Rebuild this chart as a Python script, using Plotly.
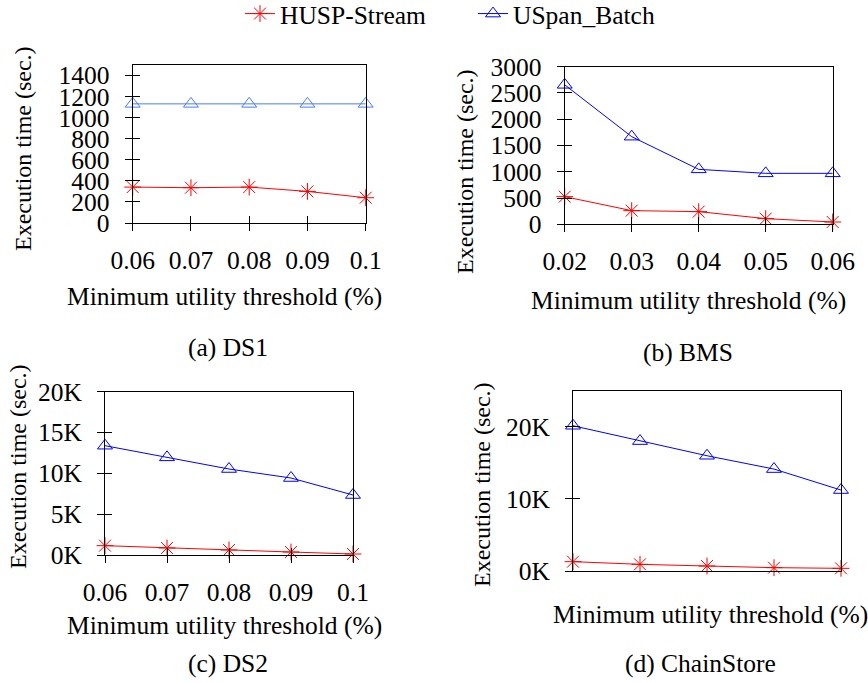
import plotly.graph_objects as go

# ---------------- data ----------------
x_ds1 = [0.06, 0.07, 0.08, 0.09, 0.10]
x_ds1_labels = ["0.06", "0.07", "0.08", "0.09", "0.1"]
husp_ds1 = [341, 335, 341, 300, 240]
uspan_ds1 = [1131, 1131, 1131, 1131, 1131]

x_bms = [0.02, 0.03, 0.04, 0.05, 0.06]
x_bms_labels = ["0.02", "0.03", "0.04", "0.05", "0.06"]
husp_bms = [526, 260, 241, 108, 44]
uspan_bms = [2655, 1668, 1046, 970, 970]

x_ds2 = [0.06, 0.07, 0.08, 0.09, 0.10]
x_ds2_labels = ["0.06", "0.07", "0.08", "0.09", "0.1"]
husp_ds2 = [1143, 857, 612, 367, 122]
uspan_ds2 = [13388, 11959, 10531, 9429, 7347]

x_chain = [1, 2, 3, 4, 5]          # thresholds not labelled in the source
husp_chain = [1293, 924, 693, 462, 370]
uspan_chain = [20139, 18014, 15982, 14134, 11224]

y_ds1_ticks = [0, 200, 400, 600, 800, 1000, 1200, 1400]
y_bms_ticks = [0, 500, 1000, 1500, 2000, 2500, 3000]
y_ds2_ticks = [0, 5000, 10000, 15000, 20000]
y_ds2_labels = ["0K", "5K", "10K", "15K", "20K"]
y_chain_ticks = [0, 10000, 20000]
y_chain_labels = ["0K", "10K", "20K"]

series_names = ["HUSP-Stream", "USpan_Batch"]
captions = ["(a) DS1", "(b) BMS", "(c) DS2", "(d) ChainStore"]
x_title = "Minimum utility threshold (%)"
y_title = "Execution time (sec.)"

# ---------------- styling ----------------
W, H = 868, 683
FONT = "Times New Roman, Liberation Serif, serif"
FS = 25.5
FS_Y = 24
RED = "#ff0000"


def px_x(v):
    return v / W


def px_y(v):
    return 1 - v / H


panels = [
    dict(x=x_ds1, xt=x_ds1_labels, h=husp_ds1, u=uspan_ds1, yr=[0, 1500],
         ytv=y_ds1_ticks, ytt=[str(v) for v in y_ds1_ticks], blue="#4a7bff",
         dom_x=[132.7, 365.7], dom_y=[65, 223], showx=True),
    dict(x=x_bms, xt=x_bms_labels, h=husp_bms, u=uspan_bms, yr=[0, 3000],
         ytv=y_bms_ticks, ytt=[str(v) for v in y_bms_ticks], blue="#0000ff",
         dom_x=[564.7, 832.7], dom_y=[66.7, 224.3], showx=True),
    dict(x=x_ds2, xt=x_ds2_labels, h=husp_ds2, u=uspan_ds2, yr=[0, 20000],
         ytv=y_ds2_ticks, ytt=y_ds2_labels, blue="#0000ff",
         dom_x=[105, 353], dom_y=[391.7, 555], showx=True),
    dict(x=x_chain, xt=None, h=husp_chain, u=uspan_chain, yr=[0, 25000],
         ytv=y_chain_ticks, ytt=y_chain_labels, blue="#0000ff",
         dom_x=[573, 841], dom_y=[390.7, 571], showx=False),
]

fig = go.Figure()
layout = {}
for i, p in enumerate(panels):
    n = i + 1
    xa = "x" if n == 1 else f"x{n}"
    ya = "y" if n == 1 else f"y{n}"
    fig.add_trace(go.Scatter(
        x=p["x"], y=p["h"], name=series_names[0], mode="lines+markers",
        line=dict(color=RED, width=1),
        marker=dict(symbol="asterisk-open", size=14, color=RED, line=dict(color=RED, width=1)),
        xaxis=xa, yaxis=ya, cliponaxis=False, showlegend=(n == 1)))
    fig.add_trace(go.Scatter(
        x=p["x"], y=p["u"], name=series_names[1], mode="lines+markers",
        line=dict(color=p["blue"], width=1),
        marker=dict(symbol="triangle-up-open", size=13, color=p["blue"], line=dict(width=1)),
        xaxis=xa, yaxis=ya, cliponaxis=False, showlegend=False))
    if n == 1:
        # legend entry in pure blue (panel (a) uses a lighter blue in the source)
        fig.add_trace(go.Scatter(
            x=[None], y=[None], name=series_names[1], mode="lines+markers",
            line=dict(color="#0000ff", width=1),
            marker=dict(symbol="triangle-up-open", size=13, color="#0000ff"),
            xaxis=xa, yaxis=ya, showlegend=True))

    dx = [px_x(p["dom_x"][0]), px_x(p["dom_x"][1])]
    dy = [px_y(p["dom_y"][1]), px_y(p["dom_y"][0])]
    xr = [p["x"][0], p["x"][-1]]
    xkey = "xaxis" if n == 1 else f"xaxis{n}"
    ykey = "yaxis" if n == 1 else f"yaxis{n}"
    layout[xkey] = dict(
        domain=dx, anchor=ya, range=xr, showgrid=False, zeroline=False, automargin=False,
        showline=True, linecolor="black", linewidth=1, mirror=True,
        tickvals=p["x"] if p["showx"] else [], ticktext=p["xt"] if p["showx"] else None,
        ticks="outside" if p["showx"] else "", ticklen=7, tickcolor="black",
        showticklabels=p["showx"], ticklabelstandoff=7,
        tickfont=dict(family=FONT, size=FS, color="black"))
    layout[ykey] = dict(
        domain=dy, anchor=xa, range=p["yr"], showgrid=False, zeroline=False, automargin=False,
        showline=True, linecolor="black", linewidth=1, mirror=True,
        tickvals=p["ytv"], ticktext=p["ytt"], ticks="outside", ticklen=7,
        tickcolor="black", ticklabelstandoff=10,
        tickfont=dict(family=FONT, size=FS, color="black"))
    # inner halves of the crossing tick marks
    m = n + 4
    if p["showx"]:
        layout[f"xaxis{m}"] = dict(
            overlaying=xa, anchor=ya, range=xr, tickvals=p["x"], ticks="inside",
            ticklen=7, tickcolor="black", showticklabels=False, showline=False,
            showgrid=False, zeroline=False, side="bottom", automargin=False)
        fig.add_trace(go.Scatter(x=[None], y=[None], xaxis=f"x{m}", yaxis=ya,
                                 showlegend=False, hoverinfo="skip"))
    layout[f"yaxis{m}"] = dict(
        overlaying=ya, anchor=xa, range=p["yr"], tickvals=p["ytv"], ticks="inside",
        ticklen=7, tickcolor="black", showticklabels=False, showline=False,
        showgrid=False, zeroline=False, side="left", automargin=False)
    fig.add_trace(go.Scatter(x=[None], y=[None], xaxis=xa, yaxis=f"y{m}",
                             showlegend=False, hoverinfo="skip"))

ann = []
caption_pos = [(228, 347), (688, 352), (228, 663), (700, 663)]
xtitle_pos = [(224, 296), (688, 300), (224, 625), (710, 614)]
ytitle_pos = [(23, 149), (465, 172), (18, 467), (482, 485)]
for i in range(4):
    cx, cy = caption_pos[i]
    ann.append(dict(x=px_x(cx), y=px_y(cy), xref="paper", yref="paper", text=captions[i],
                    showarrow=False, xanchor="center", yanchor="middle",
                    font=dict(family=FONT, size=FS, color="black")))
    tx, ty = xtitle_pos[i]
    ann.append(dict(x=px_x(tx), y=px_y(ty), xref="paper", yref="paper", text=x_title,
                    showarrow=False, xanchor="center", yanchor="middle",
                    font=dict(family=FONT, size=FS, color="black")))
    yx, yy = ytitle_pos[i]
    ann.append(dict(x=px_x(yx), y=px_y(yy), xref="paper", yref="paper", text=y_title,
                    showarrow=False, xanchor="center", yanchor="middle", textangle=-90,
                    font=dict(family=FONT, size=FS_Y, color="black")))

fig.update_layout(
    template="none",
    width=W, height=H, margin=dict(l=0, r=0, t=0, b=0, autoexpand=False),
    paper_bgcolor="white", plot_bgcolor="white",
    font=dict(family=FONT, size=FS, color="black"),
    annotations=ann,
    legend=dict(orientation="h", x=px_x(240), xanchor="left", y=px_y(14), yanchor="middle",
                font=dict(family=FONT, size=FS, color="black"),
                entrywidth=188, entrywidthmode="pixels",
                bgcolor="rgba(0,0,0,0)", tracegroupgap=0),
    **layout,
)

fig.write_html("out.html")
